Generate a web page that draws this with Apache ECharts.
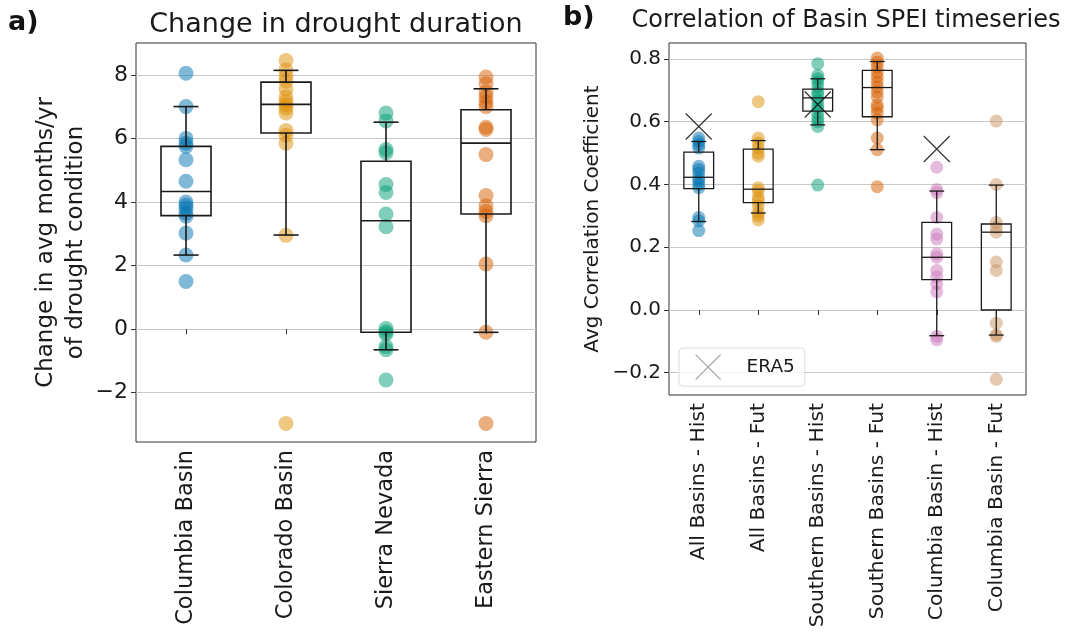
<!DOCTYPE html>
<html>
<head>
<meta charset="utf-8">
<script src="https://cdn.jsdelivr.net/npm/echarts@6/dist/echarts.min.js"></script>
<style>
html,body{margin:0;padding:0;background:#fff;}
#main{width:1073px;height:634px;}
</style>
</head>
<body>
<div id="main"></div>
<script>
// ---------- Panel a) data ----------
const leftCategories = ['Columbia Basin', 'Colorado Basin', 'Sierra Nevada', 'Eastern Sierra'];
const columbiaPts = [8.05, 7.0, 6.0, 5.85, 5.75, 5.33, 4.65, 4.0, 3.9, 3.8, 3.65, 3.55, 3.02, 2.33, 1.5];
const coloradoPts = [8.45, 8.15, 7.95, 7.8, 7.55, 7.3, 7.15, 7.05, 6.95, 6.8, 6.25, 6.1, 5.85, 2.95, -2.97];
const sierraNevadaPts = [6.8, 6.55, 5.65, 5.55, 4.55, 4.3, 3.62, 3.22, 0.02, -0.08, -0.15, -0.55, -0.65, -1.6];
const easternSierraPts = [7.93, 7.72, 7.46, 7.3, 7.14, 7.0, 6.35, 6.28, 5.49, 4.2, 3.88, 3.7, 3.57, 2.05, -0.1, -2.97];
// box stats: [lowWhisker, Q1, median, Q3, highWhisker]
const leftBoxStats = [
  [2.33, 3.57, 4.33, 5.75, 7.0],
  [2.96, 6.17, 7.07, 7.77, 8.14],
  [-0.65, -0.1, 3.41, 5.28, 6.51],
  [-0.1, 3.62, 5.85, 6.9, 7.56]
];
const leftTicks = [-2, 0, 2, 4, 6, 8];

// ---------- Panel b) data ----------
const rightCategories = ['All Basins - Hist', 'All Basins - Fut', 'Southern Basins - Hist', 'Southern Basins - Fut', 'Columbia Basin - Hist', 'Columbia Basin - Fut'];
const allHistPts = [0.548, 0.537, 0.527, 0.516, 0.458, 0.448, 0.437, 0.421, 0.411, 0.40, 0.39, 0.295, 0.284, 0.253];
const allFutPts = [0.664, 0.548, 0.532, 0.516, 0.50, 0.49, 0.39, 0.379, 0.358, 0.348, 0.332, 0.311, 0.30, 0.287];
const southHistPts = [0.785, 0.748, 0.737, 0.727, 0.711, 0.695, 0.685, 0.669, 0.653, 0.643, 0.627, 0.611, 0.60, 0.585, 0.398];
const southFutPts = [0.803, 0.79, 0.774, 0.758, 0.743, 0.727, 0.711, 0.695, 0.679, 0.653, 0.643, 0.627, 0.606, 0.548, 0.511, 0.393];
const colHistPts = [0.455, 0.384, 0.374, 0.295, 0.242, 0.226, 0.179, 0.168, 0.126, 0.105, 0.084, 0.058, -0.084, -0.095];
const colFutPts = [0.602, 0.40, 0.279, 0.263, 0.248, 0.153, 0.126, -0.042, -0.079, -0.084, -0.221];
const rightBoxStats = [
  [0.282, 0.387, 0.423, 0.503, 0.537],
  [0.309, 0.342, 0.385, 0.513, 0.540],
  [0.59, 0.634, 0.676, 0.704, 0.737],
  [0.511, 0.616, 0.709, 0.764, 0.792],
  [-0.082, 0.097, 0.168, 0.279, 0.379],
  [-0.080, 0.0, 0.248, 0.274, 0.398]
];
const era5Cats = [0, 2, 4];
const era5Values = [0.585, 0.655, 0.513];
const rightTicks = [-0.2, 0, 0.2, 0.4, 0.6, 0.8];

// ---------- styling ----------
const FONT = 'DejaVu Sans';
const leftColors = ['#0173b2', '#de8f05', '#029e73', '#d55e00'];
const rightColors = ['#0173b2', '#de8f05', '#029e73', '#d55e00', '#cc78bc', '#ca9161'];
const XPATH = 'path://M0,0L10,10M10,0L0,10';
const minusFmt = (v, d) => (v < 0 ? '\u2212' + Math.abs(v).toFixed(d) : v.toFixed(d));

function boxRenderer(lw) {
  return function (params, api) {
    const x = api.value(0);
    const lo = api.coord([x, api.value(1)]);
    const q1 = api.coord([x, api.value(2)]);
    const md = api.coord([x, api.value(3)]);
    const q3 = api.coord([x, api.value(4)]);
    const hi = api.coord([x, api.value(5)]);
    const bw = api.size([1, 0])[0];
    const hw = bw * 0.25, cw = bw * 0.125, cx = lo[0];
    const st = { stroke: '#1a1a1a', fill: 'none', lineWidth: lw };
    const line = (x1, y1, x2, y2) => ({ type: 'line', shape: { x1, y1, x2, y2 }, style: st });
    return {
      type: 'group',
      children: [
        line(cx, q1[1], cx, lo[1]),
        line(cx, q3[1], cx, hi[1]),
        line(cx - cw, lo[1], cx + cw, lo[1]),
        line(cx - cw, hi[1], cx + cw, hi[1]),
        { type: 'rect', shape: { x: cx - hw, y: q3[1], width: 2 * hw, height: q1[1] - q3[1] }, style: st },
        line(cx - hw, md[1], cx + hw, md[1])
      ]
    };
  };
}

const leftPointSets = [columbiaPts, coloradoPts, sierraNevadaPts, easternSierraPts];
const rightPointSets = [allHistPts, allFutPts, southHistPts, southFutPts, colHistPts, colFutPts];

const series = [];
leftPointSets.forEach((pts, i) => {
  series.push({
    type: 'scatter', xAxisIndex: 0, yAxisIndex: 0, z: 2,
    symbolSize: 15, silent: true,
    itemStyle: { color: leftColors[i], opacity: 0.5 },
    data: pts.map(v => [i, v])
  });
});
series.push({
  type: 'custom', xAxisIndex: 0, yAxisIndex: 0, z: 5, silent: true,
  renderItem: boxRenderer(1.6),
  encode: { x: 0, y: [1, 2, 3, 4, 5] },
  data: leftBoxStats.map((s, i) => [i].concat(s))
});
rightPointSets.forEach((pts, i) => {
  series.push({
    type: 'scatter', xAxisIndex: 1, yAxisIndex: 1, z: 2,
    symbolSize: 13, silent: true,
    itemStyle: { color: rightColors[i], opacity: 0.5 },
    data: pts.map(v => [i, v])
  });
});
series.push({
  type: 'custom', xAxisIndex: 1, yAxisIndex: 1, z: 5, silent: true,
  renderItem: boxRenderer(1.3),
  encode: { x: 0, y: [1, 2, 3, 4, 5] },
  data: rightBoxStats.map((s, i) => [i].concat(s))
});
series.push({
  name: 'ERA5', type: 'scatter', xAxisIndex: 1, yAxisIndex: 1, z: 6, silent: true,
  symbol: XPATH, symbolSize: 26,
  itemStyle: { color: 'transparent', borderColor: '#000', borderWidth: 1.2 },
  data: era5Cats.map((c, i) => [c, era5Values[i]])
});

const chart = echarts.init(document.getElementById('main'), null, { renderer: 'canvas' });
const txt = '#1a1a1a';
const axisLineStyle = { color: '#333', width: 1 };

chart.setOption({
  animation: false,
  backgroundColor: '#fff',
  textStyle: { fontFamily: FONT },
  title: [
    { text: 'a)', left: 8, top: 9, padding: 0, textStyle: { fontFamily: FONT, fontSize: 27, fontWeight: 'bold', color: '#111' } },
    { text: 'Change in drought duration', left: 336, top: 11, padding: 0, textAlign: 'center', textStyle: { fontFamily: FONT, fontSize: 27, fontWeight: 'normal', color: txt } },
    { text: 'b)', left: 563, top: 4, padding: 0, textStyle: { fontFamily: FONT, fontSize: 27, fontWeight: 'bold', color: '#111' } },
    { text: 'Correlation of Basin SPEI timeseries', left: 846, top: 9, padding: 0, textAlign: 'center', textStyle: { fontFamily: FONT, fontSize: 24, fontWeight: 'normal', color: txt } }
  ],
  legend: {
    left: 679, top: 348,
    orient: 'vertical',
    padding: [6, 10, 6, 16],
    itemWidth: 25, itemHeight: 25,
    backgroundColor: 'rgba(255,255,255,0.8)',
    borderColor: '#dcdcdc', borderWidth: 1, borderRadius: 4,
    selectedMode: false,
    textStyle: { fontFamily: FONT, fontSize: 18.5, color: txt, padding: [0, 0, 0, 21] },
    data: [{ name: 'ERA5', icon: XPATH, itemStyle: { color: 'transparent', borderColor: '#8a8a8a', borderWidth: 1.2 } }]
  },
  grid: [
    { left: 136, right: 537, top: 43, bottom: 192, show: true, borderColor: '#333', borderWidth: 1, backgroundColor: 'transparent' },
    { left: 669, right: 47, top: 43, bottom: 239, show: true, borderColor: '#333', borderWidth: 1, backgroundColor: 'transparent' }
  ],
  xAxis: [
    {
      type: 'category', gridIndex: 0, data: leftCategories, boundaryGap: true,
      axisLine: { show: false },
      axisTick: { show: true, alignWithLabel: true, length: 5, lineStyle: axisLineStyle },
      axisLabel: { rotate: 90, margin: 8, fontFamily: FONT, fontSize: 22.5, color: txt, interval: 0 },
      splitLine: { show: false }
    },
    {
      type: 'category', gridIndex: 1, data: rightCategories, boundaryGap: true,
      axisLine: { show: false },
      axisTick: { show: true, alignWithLabel: true, length: 5, lineStyle: axisLineStyle },
      axisLabel: { rotate: 90, margin: 8, fontFamily: FONT, fontSize: 20.3, color: txt, interval: 0 },
      splitLine: { show: false }
    }
  ],
  yAxis: [
    {
      type: 'value', gridIndex: 0, min: -3.55, max: 9.0,
      name: 'Change in avg months/yr\nof drought condition',
      nameLocation: 'middle', nameRotate: 90, nameGap: 45,
      nameTextStyle: { fontFamily: FONT, fontSize: 23, color: txt, lineHeight: 30 },
      axisLine: { show: false },
      axisTick: { show: true, length: 5, lineStyle: axisLineStyle, customValues: leftTicks },
      axisLabel: { margin: 8, fontFamily: FONT, fontSize: 22, color: txt, customValues: leftTicks, formatter: v => minusFmt(v, 0) },
      splitLine: { show: true, lineStyle: { color: '#c8c8c8', width: 1 } }
    },
    {
      type: 'value', gridIndex: 1, min: -0.271, max: 0.851,
      name: 'Avg Correlation Coefficient',
      nameLocation: 'middle', nameRotate: 90, nameGap: 66,
      nameTextStyle: { fontFamily: FONT, fontSize: 20, color: txt },
      axisLine: { show: false },
      axisTick: { show: true, length: 5, lineStyle: axisLineStyle, customValues: rightTicks },
      axisLabel: { margin: 8, fontFamily: FONT, fontSize: 20, color: txt, customValues: rightTicks, formatter: v => minusFmt(v, 1) },
      splitLine: { show: true, lineStyle: { color: '#c8c8c8', width: 1 } }
    }
  ],
  series: series
});
</script>
</body>
</html>
